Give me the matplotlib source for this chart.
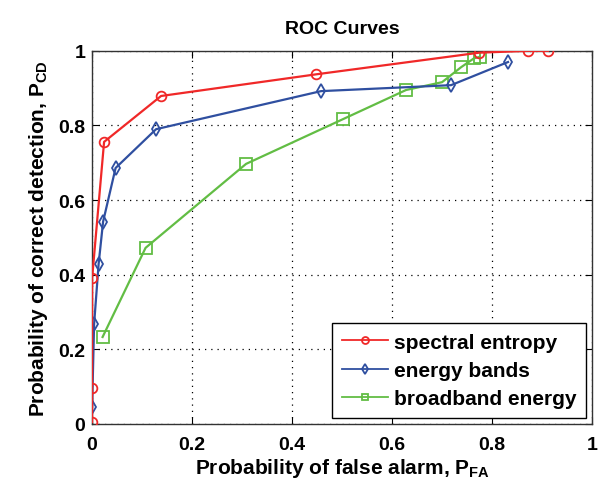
import matplotlib
matplotlib.use("Agg")
import matplotlib.pyplot as plt

plt.rcParams["font.family"] = ["Liberation Sans", "DejaVu Sans"]
plt.rcParams["mathtext.default"] = "regular"

# ROC points
se_pfa = [0.0, 0.0, 0.0, 0.024, 0.138, 0.448, 0.774, 0.872, 0.912]
se_pcd = [0.005, 0.095, 0.39, 0.756, 0.879, 0.937, 0.995, 1.0, 1.0]

eb_pfa = [0.0, 0.004, 0.013, 0.022, 0.047, 0.128, 0.458, 0.718, 0.832]
eb_pcd = [0.045, 0.267, 0.428, 0.542, 0.686, 0.79, 0.892, 0.908, 0.970]

bb_pfa = [0.021, 0.107, 0.308, 0.502, 0.628, 0.700, 0.738, 0.764, 0.776]
bb_pcd = [0.233, 0.472, 0.697, 0.817, 0.895, 0.916, 0.956, 0.980, 0.984]

ticks = [0, 0.2, 0.4, 0.6, 0.8, 1]
tick_labels = ["0", "0.2", "0.4", "0.6", "0.8", "1"]

fig = plt.figure(figsize=(5.98, 4.89), dpi=100)
ax = fig.add_axes([0.154, 0.131, 0.836, 0.763])

ax.plot(se_pfa, se_pcd, "-o", color="#f02828", lw=1.6, ms=7, mfc="none", mew=1.3,
        label="spectral entropy", zorder=4)
ax.plot(eb_pfa, eb_pcd, "-d", color="#2f4fa0", lw=1.6, ms=7, mfc="none", mew=1.3,
        label="energy bands", zorder=3)
ax.plot(bb_pfa, bb_pcd, "-s", color="#62bd44", lw=1.6, ms=8, mfc="none", mew=1.3,
        label="broadband energy", zorder=2)

ax.set_xlim(0, 1)
ax.set_ylim(0, 1)
ax.set_xticks(ticks)
ax.set_xticklabels(tick_labels)
ax.set_yticks(ticks)
ax.set_yticklabels(tick_labels)
ax.tick_params(direction="in", length=5, labelsize=14, top=True, right=True)
ax.tick_params(axis="x", pad=9)
ax.tick_params(axis="y", pad=5)
for lab in ax.get_xticklabels() + ax.get_yticklabels():
    lab.set_fontweight("bold")
ax.grid(True, color="black", linestyle=(0, (1, 4)), linewidth=0.9)
for s in ax.spines.values():
    s.set_color("#333333")
    s.set_linewidth(1.0)

ax.set_xlabel("Probability of false alarm, P$_{FA}$", fontsize=15, fontweight="bold", labelpad=2)
ax.set_ylabel("Probability of correct detection, P$_{CD}$", fontsize=15, fontweight="bold", labelpad=6)
ax.set_title("ROC Curves", fontsize=14, fontweight="bold", pad=13)

leg = ax.legend(loc="lower right", numpoints=1, handlelength=2.2,
                borderpad=0.45, labelspacing=0.45, handletextpad=0.3,
                borderaxespad=0.3, fancybox=False, framealpha=1, edgecolor="black",
                prop={"weight": "bold", "size": 15})
leg.get_frame().set_linewidth(1.0)
for h in leg.legend_handles:
    h.set_markersize(5)
    h.set_linewidth(1.3)

fig.savefig("out.png", dpi=100)
